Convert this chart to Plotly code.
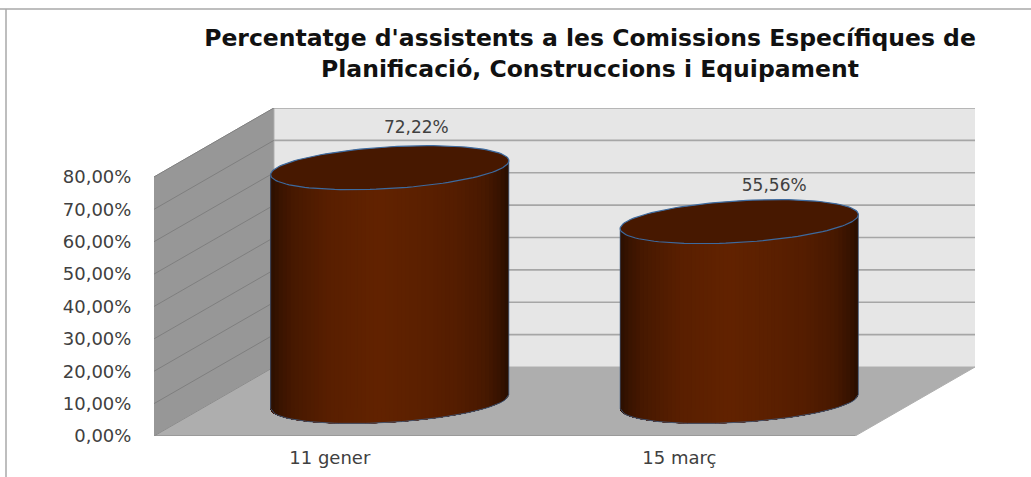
import numpy as np
import plotly.graph_objects as go

# ---- data ----
categories = ["11 gener", "15 març"]
values = [72.22, 55.56]
value_labels = ["72,22%", "55,56%"]
tick_values = [0, 10, 20, 30, 40, 50, 60, 70, 80]
tick_labels = ["0,00%", "10,00%", "20,00%", "30,00%", "40,00%", "50,00%", "60,00%", "70,00%", "80,00%"]
title_text = "Percentatge d'assistents a les Comissions Específiques de<br>Planificació, Construccions i Equipament"

# ---- oblique projection, in axis units ----
W, H = 1031, 477
DEPTH_X, DEPTH_Y = 0.343, 21.3     # axis-unit shift from the front plane to the back wall
X0, X1 = -0.503, 1.503
Y_MAX = 80
R_X, D_X, D_Y = 0.323, 0.1086, 6.8 # cylinder ellipse vectors
LABEL_DX = [0.076, 0.10]
LABEL_DY = [12.0, 10.8]

stops_pos = [0.0, 0.04, 0.10, 0.22, 0.36, 0.55, 0.75, 0.90, 0.96, 1.0]
stops_rgb = [(40, 14, 0), (56, 19, 0), (72, 25, 0), (84, 29, 0), (91, 32, 0),
             (98, 35, 0), (89, 31, 0), (72, 25, 0), (58, 20, 0), (44, 15, 0)]


def shade(f):
    return "rgb(%d,%d,%d)" % tuple(int(np.interp(f, stops_pos, [c[i] for c in stops_rgb])) for i in range(3))


def poly(xs, ys, fill, line=None, width=1):
    return go.Scatter(x=xs, y=ys, mode="lines", fill="toself", fillcolor=fill,
                      line=dict(color=line or fill, width=width), hoverinfo="skip", showlegend=False)


def seg(xs, ys, color, width=1):
    return go.Scatter(x=xs, y=ys, mode="lines", line=dict(color=color, width=width),
                      hoverinfo="skip", showlegend=False)


fig = go.Figure()

# back wall, side wall, floor
fig.add_trace(poly([X0 + DEPTH_X, X1 + DEPTH_X, X1 + DEPTH_X, X0 + DEPTH_X],
                   [DEPTH_Y, DEPTH_Y, Y_MAX + DEPTH_Y, Y_MAX + DEPTH_Y], "#e6e6e6"))
fig.add_trace(poly([X0, X0 + DEPTH_X, X0 + DEPTH_X, X0],
                   [0, DEPTH_Y, Y_MAX + DEPTH_Y, Y_MAX], "#979797", "#a3a3a3"))
fig.add_trace(poly([X0, X1, X1 + DEPTH_X, X0 + DEPTH_X],
                   [0, 0, DEPTH_Y, DEPTH_Y], "#aeaeae"))
for v in tick_values[1:]:
    fig.add_trace(seg([X0, X0 + DEPTH_X], [v, v + DEPTH_Y], "#7f7f7f", 1))
    fig.add_trace(seg([X0 + DEPTH_X, X1 + DEPTH_X], [v + DEPTH_Y, v + DEPTH_Y], "#a6a6a6", 1.6))
fig.add_trace(seg([X0, X1], [0, 0], "#9a9a9a", 2))
fig.add_trace(seg([X0, X0 + DEPTH_X], [0, DEPTH_Y], "#8c8c8c", 1))

# cylinders
T0 = np.arctan2(D_X, R_X)
N_STRIPS = 60
for i, value in enumerate(values):
    cx = i + DEPTH_X / 2
    base = DEPTH_Y / 2
    extent = np.hypot(R_X, D_X)
    ts = T0 - np.arccos(np.linspace(1, -1, N_STRIPS + 1))
    ex = R_X * np.cos(ts) + D_X * np.sin(ts)
    ey = D_Y * np.sin(ts)
    # strips evenly spaced in x, painted right to left, each running on under the next
    xgrid = np.linspace(extent, -extent, N_STRIPS + 1)
    tgrid = T0 - np.arccos(xgrid / extent)
    gy = D_Y * np.sin(tgrid)
    for k in range(N_STRIPS):
        f = 0.5 - (xgrid[k] + xgrid[k + 1]) / (4 * extent)
        col = shade(f)
        sub_t = np.linspace(tgrid[k], tgrid[-1], 40)
        sx = R_X * np.cos(sub_t) + D_X * np.sin(sub_t)
        sy = D_Y * np.sin(sub_t)
        xs = [cx + xgrid[k]] + list(cx + sx) + [cx + xgrid[-1]]
        ys = [base + value + gy[k]] + list(base + sy) + [base + value + gy[-1]]
        fig.add_trace(go.Scatter(x=xs, y=ys, mode="none", fill="toself", fillcolor=col,
                                 hoverinfo="skip", showlegend=False))
    # silhouette outline
    fig.add_trace(seg(list(cx + ex), list(base + ey), "#3f5f85", 0.8))
    fig.add_trace(seg([cx + ex[-1], cx + ex[-1]], [base + ey[-1], base + value + ey[-1]], "#3f5f85", 0.7))
    fig.add_trace(seg([cx + ex[0], cx + ex[0]], [base + ey[0], base + value + ey[0]], "#3f5f85", 0.7))
    # top cap
    tt = np.linspace(0, 2 * np.pi, 121)
    fig.add_trace(poly(list(cx + R_X * np.cos(tt) + D_X * np.sin(tt)),
                       list(base + value + D_Y * np.sin(tt)), "#471800", "#3d6a9e", 1.2))

# value labels
fig.add_trace(go.Scatter(
    x=[i + DEPTH_X / 2 + LABEL_DX[i] for i in range(len(values))],
    y=[DEPTH_Y / 2 + values[i] + LABEL_DY[i] for i in range(len(values))],
    mode="text", text=value_labels, textposition="middle center",
    textfont=dict(family="DejaVu Sans", size=17, color="#404040"),
    hoverinfo="skip", showlegend=False))

px_left, px_right, px_top, px_bot = 154, 975, 108, 436
fig.update_layout(
    width=W, height=H, autosize=False,
    margin=dict(l=0, r=0, t=0, b=0),
    paper_bgcolor="white", plot_bgcolor="rgba(0,0,0,0)",
    showlegend=False,
    title=dict(text=title_text, x=590 / W, xanchor="center", y=1 - 46 / H, yanchor="middle",
               font=dict(family="DejaVu Sans", size=23.5, color="#111111", weight="bold")),
    xaxis=dict(domain=[px_left / W, px_right / W], range=[X0, X1 + DEPTH_X],
               tickmode="array", tickvals=[0, 1], ticktext=categories,
               showgrid=False, zeroline=False, showline=False,
               ticks="outside", ticklen=5, tickcolor="rgba(0,0,0,0)",
               tickfont=dict(family="DejaVu Sans", size=18, color="#404040"), automargin=False),
    yaxis=dict(domain=[1 - px_bot / H, 1 - px_top / H], range=[0, Y_MAX + DEPTH_Y],
               tickmode="array", tickvals=tick_values, ticktext=tick_labels,
               showgrid=False, zeroline=False, showline=False,
               ticks="outside", ticklen=18, tickcolor="rgba(0,0,0,0)",
               tickfont=dict(family="DejaVu Sans", size=18, color="#404040"), automargin=False),
    shapes=[
        dict(type="line", xref="paper", yref="paper", x0=0, x1=1, y0=1 - 9 / H, y1=1 - 9 / H,
             line=dict(color="#a8a8a8", width=1.5)),
        dict(type="line", xref="paper", yref="paper", x0=6 / W, x1=6 / W, y0=0, y1=1 - 9 / H,
             line=dict(color="#a8a8a8", width=1.5)),
    ],
)

fig.write_html("out.html", config={"displayModeBar": False},
               post_script="document.body.style.margin='0';document.body.style.overflow='hidden';")
